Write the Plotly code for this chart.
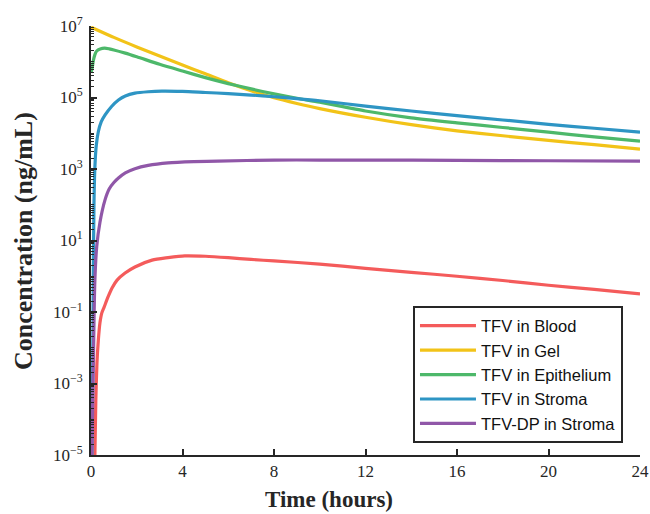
import plotly.graph_objects as go

# ---- data (time in hours, concentration in ng/mL) ----
t_blood = [0.17, 0.21, 0.26, 0.32, 0.39, 0.47, 0.57, 0.74, 0.92, 1.14, 1.49, 1.92, 2.67, 3.37, 4.1, 5, 6, 7, 8, 10, 12, 14, 16, 18, 20, 22, 24]
c_blood = [1e-5, 3.2e-4, 3.7e-3, 1.6e-2, 4.9e-2, 9.3e-2, 0.135, 0.26, 0.47, 0.78, 1.23, 1.82, 2.82, 3.31, 3.72, 3.63, 3.31, 2.95, 2.69, 2.19, 1.66, 1.29, 1.0, 0.76, 0.56, 0.43, 0.32]

t_gel = [0, 1, 2, 3, 4, 5, 6, 7, 8, 9, 10, 12, 14, 16, 18, 20, 22, 24]
c_gel = [9.3e6, 4.8e6, 2.6e6, 1.45e6, 8.1e5, 4.6e5, 2.6e5, 1.55e5, 9.8e4, 6.8e4, 4.9e4, 2.8e4, 1.74e4, 1.17e4, 8.5e3, 6.3e3, 4.8e3, 3.6e3]

t_epi = [0, 0.05, 0.1, 0.17, 0.25, 0.4, 0.6, 0.8, 1.0, 1.5, 2, 3, 4, 5, 6, 7, 8, 9, 10, 12, 14, 16, 18, 20, 22, 24]
c_epi = [4.9e5, 6.6e5, 1.05e6, 1.58e6, 2.0e6, 2.29e6, 2.4e6, 2.29e6, 2.14e6, 1.74e6, 1.38e6, 8.5e5, 5.5e5, 3.6e5, 2.45e5, 1.74e5, 1.26e5, 9.5e4, 7.4e4, 4.2e4, 2.7e4, 1.95e4, 1.45e4, 1.07e4, 7.9e3, 6.0e3]

t_str = [0.04, 0.07, 0.1, 0.13, 0.17, 0.23, 0.32, 0.45, 0.61, 0.9, 1.2, 1.5, 1.92, 2.5, 3.1, 4, 5, 6, 7, 8, 9, 10, 12, 14, 16, 18, 20, 22, 24]
c_str = [1e-5, 1e-3, 1.0, 100, 1.12e3, 4.5e3, 1.1e4, 2.1e4, 3.2e4, 5.6e4, 8.5e4, 1.1e5, 1.32e5, 1.45e5, 1.51e5, 1.48e5, 1.38e5, 1.29e5, 1.17e5, 1.05e5, 9.3e4, 8.1e4, 5.75e4, 4.2e4, 3.1e4, 2.35e4, 1.78e4, 1.38e4, 1.07e4]

t_dp = [0.04, 0.09, 0.13, 0.17, 0.25, 0.39, 0.61, 0.8, 1.0, 1.2, 1.5, 1.92, 2.5, 3.37, 4.5, 5.55, 8, 10, 12, 16, 20, 24]
c_dp = [1e-5, 1e-3, 5.0e-2, 0.79, 6.8, 32, 135, 280, 420, 560, 780, 1.02e3, 1.26e3, 1.48e3, 1.6e3, 1.66e3, 1.78e3, 1.78e3, 1.78e3, 1.74e3, 1.7e3, 1.66e3]

names = ["TFV in Blood", "TFV in Gel", "TFV in Epithelium", "TFV in Stroma", "TFV-DP in Stroma"]
colors = ["#F45B5B", "#F2C318", "#4DB86A", "#2E95C4", "#9057A8"]

x_ticks = [0, 4, 8, 12, 16, 20, 24]
y_exps = [-5, -3, -1, 1, 3, 5, 7]
y_ticks = [10.0 ** e for e in y_exps]
y_ticktext = ["10<sup>%s</sup>" % (str(e).replace("-", "\u2212")) for e in y_exps]
y_minor = [k * 10.0 ** e for e in range(-5, 7) for k in range(1, 10) if not (k == 1 and e in y_exps)]

series = [(t_blood, c_blood), (t_gel, c_gel), (t_epi, c_epi), (t_str, c_str), (t_dp, c_dp)]

fig = go.Figure()
for (tt, cc), nm, col in zip(series, names, colors):
    fig.add_trace(go.Scatter(x=tt, y=cc, mode="lines", name=nm,
                             line=dict(color=col, width=3.2, shape="spline", smoothing=0.7)))

axis_font = dict(family="Liberation Serif", size=17, color="#262626")
fig.update_layout(
    width=650, height=514,
    margin=dict(l=91, r=10, t=26, b=59),
    paper_bgcolor="white", plot_bgcolor="white",
    showlegend=True,
    legend=dict(x=0.969, y=0.027, xanchor="right", yanchor="bottom",
                bgcolor="white", bordercolor="#262626", borderwidth=2,
                font=dict(family="Liberation Sans", size=16.5, color="#111111"),
                itemwidth=56, tracegroupgap=0),
    xaxis=dict(range=[0, 24], tickvals=x_ticks, ticks="inside", ticklen=6, tickwidth=1.5,
               tickcolor="#262626", showline=True, linewidth=2, linecolor="#262626",
               showgrid=False, zeroline=False, tickfont=axis_font, automargin=False),
    yaxis=dict(type="log", range=[-5, 7], tickvals=y_ticks, ticktext=y_ticktext,
               ticks="inside", ticklen=6, tickwidth=1.5, tickcolor="#262626",
               showline=True, linewidth=2, linecolor="#262626", ticklabelstandoff=3,
               showgrid=False, zeroline=False, tickfont=axis_font, automargin=False,
               minor=dict(tickvals=y_minor, ticks="inside", ticklen=3, tickwidth=1, tickcolor="#262626")),
    annotations=[
        dict(text="<b>Time (hours)</b>", xref="paper", yref="paper", x=0.4335, y=-0.1026,
             xanchor="center", yanchor="middle", showarrow=False,
             font=dict(family="Liberation Serif", size=23, color="#262626")),
        dict(text="<b>Concentration (ng/mL)</b>", xref="paper", yref="paper", x=-0.122, y=0.499,
             xanchor="center", yanchor="middle", showarrow=False, textangle=-90,
             font=dict(family="Liberation Serif", size=26, color="#262626")),
    ],
)

fig.write_html("out.html", config={"displayModeBar": False},
               post_script="document.body.style.margin='0';document.body.style.padding='0';")
